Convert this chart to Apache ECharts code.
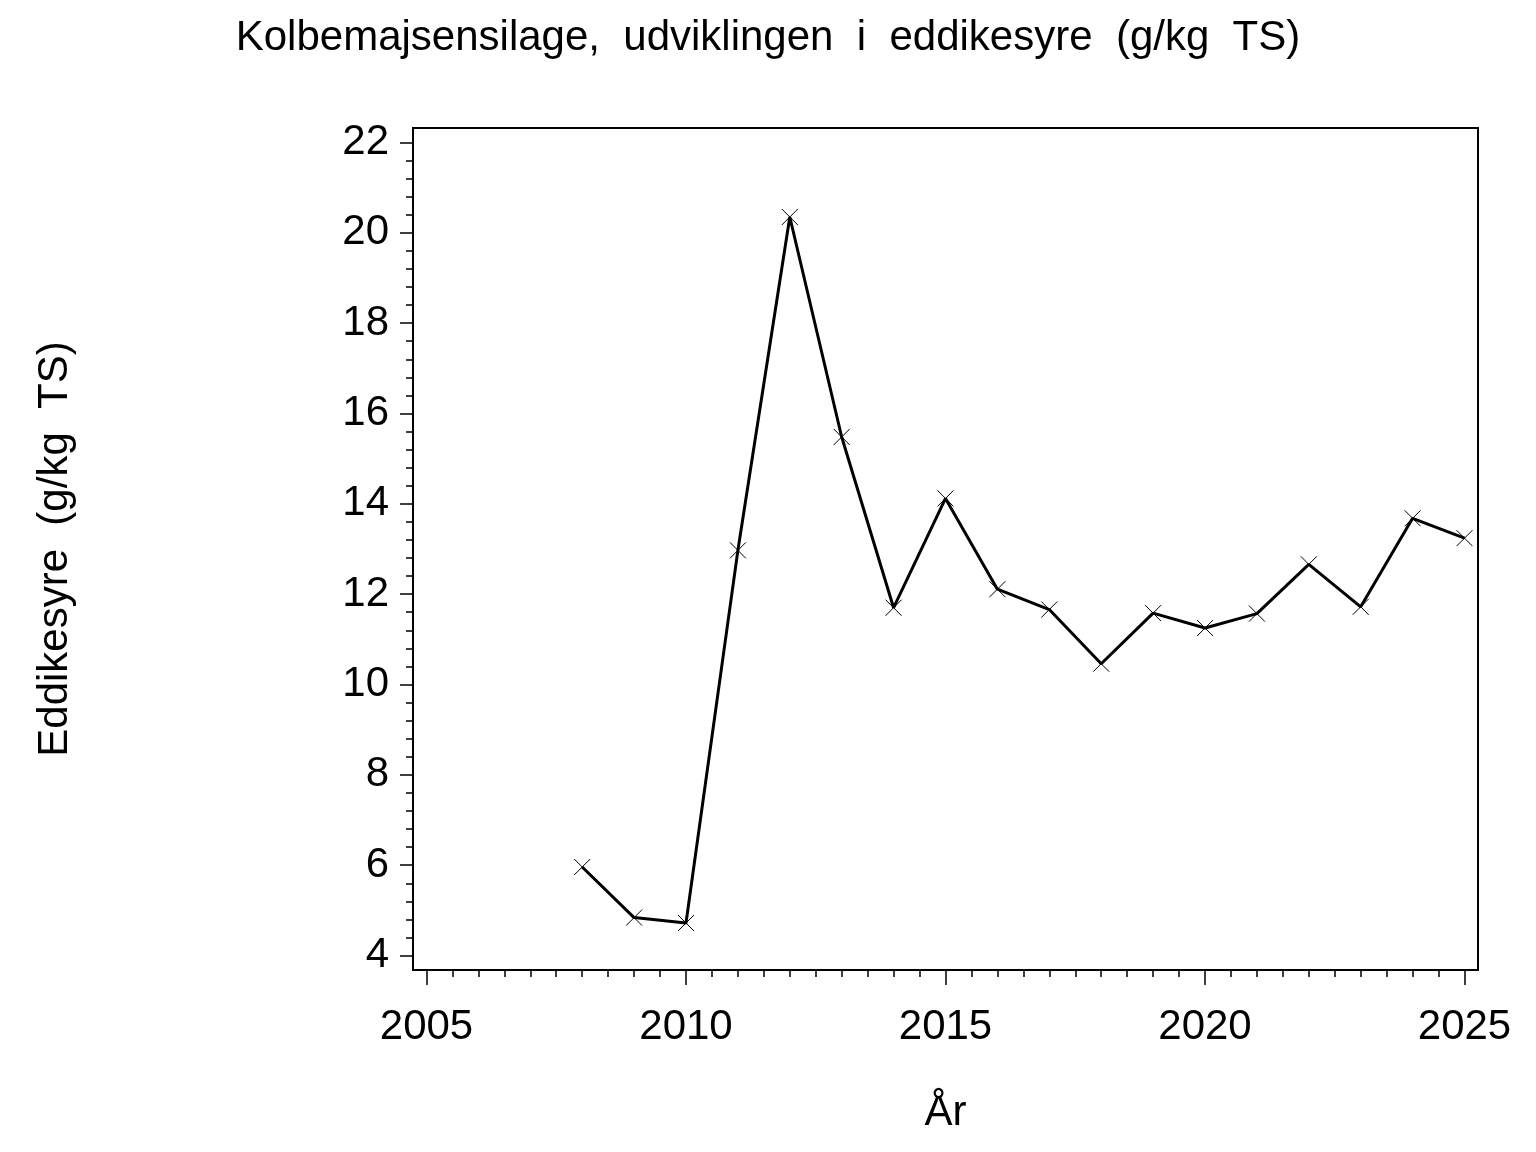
<!DOCTYPE html>
<html>
<head>
<meta charset="utf-8">
<script src="https://cdn.jsdelivr.net/npm/echarts@6/dist/echarts.min.js"></script>
<style>
html,body{margin:0;padding:0;background:#fff;}
#chart{width:1536px;height:1152px;}
</style>
</head>
<body>
<div id="chart"></div>
<script>
var years = [2008, 2009, 2010, 2011, 2012, 2013, 2014, 2015, 2016, 2017, 2018, 2019, 2020, 2021, 2022, 2023, 2024, 2025];
var eddikesyre = [5.96, 4.84, 4.72, 12.97, 20.35, 15.48, 11.70, 14.12, 12.11, 11.66, 10.46, 11.58, 11.25, 11.57, 12.66, 11.72, 13.68, 13.24];
var xTicks = [2005, 2010, 2015, 2020, 2025];
var yTicks = [4, 6, 8, 10, 12, 14, 16, 18, 20, 22];
var xMinorPerMajor = 10;
var yMinorPerMajor = 5;

function minorValues(ticks, n) {
  var out = [];
  for (var i = 0; i < ticks.length - 1; i++) {
    var step = (ticks[i + 1] - ticks[i]) / n;
    for (var k = 1; k < n; k++) out.push(+(ticks[i] + k * step).toFixed(4));
  }
  return out;
}

var FONT = '"Liberation Sans", Arial, sans-serif';
var chart = echarts.init(document.getElementById('chart'), null, {renderer: 'canvas'});
var data = years.map(function (y, i) { return [y, eddikesyre[i]]; });

var xRange = {min: 2004.74, max: 2025.26};
var yRange = {min: 3.68, max: 22.32};

chart.setOption({
  animation: false,
  backgroundColor: '#fff',
  title: {
    text: 'Kolbemajsensilage,  udviklingen  i  eddikesyre  (g/kg  TS)',
    left: 'center',
    top: 12,
    textStyle: {fontFamily: FONT, fontSize: 42, fontWeight: 'normal', color: '#000'}
  },
  grid: {
    left: 413, right: 58, top: 128, bottom: 182,
    show: true, borderColor: '#000', borderWidth: 2, backgroundColor: 'transparent'
  },
  xAxis: [{
    type: 'value', min: xRange.min, max: xRange.max,
    position: 'bottom',
    name: 'År', nameLocation: 'middle', nameGap: 122,
    nameTextStyle: {fontFamily: FONT, fontSize: 42, color: '#000'},
    axisLine: {show: true, onZero: false, lineStyle: {color: '#000', width: 2}},
    axisTick: {show: true, customValues: xTicks, length: 15, lineStyle: {color: '#000', width: 1.5}},
    axisLabel: {customValues: xTicks, margin: 36, fontFamily: FONT, fontSize: 42, color: '#000',
      formatter: function (v) { return String(Math.round(v)); }},
    splitLine: {show: false}
  }, {
    type: 'value', min: xRange.min, max: xRange.max,
    position: 'bottom', offset: 0,
    axisLine: {show: false, onZero: false},
    axisTick: {show: true, customValues: minorValues(xTicks, xMinorPerMajor), length: 7, lineStyle: {color: '#000', width: 1.5}},
    axisLabel: {show: false},
    splitLine: {show: false}
  }],
  yAxis: [{
    type: 'value', min: yRange.min, max: yRange.max,
    position: 'left',
    name: 'Eddikesyre  (g/kg  TS)', nameLocation: 'middle', nameGap: 337, nameRotate: 90,
    nameTextStyle: {fontFamily: FONT, fontSize: 42, color: '#000'},
    axisLine: {show: true, onZero: false, lineStyle: {color: '#000', width: 2}},
    axisTick: {show: true, customValues: yTicks, length: 13, lineStyle: {color: '#000', width: 1.5}},
    axisLabel: {customValues: yTicks, margin: 24, fontFamily: FONT, fontSize: 42, color: '#000'},
    splitLine: {show: false}
  }, {
    type: 'value', min: yRange.min, max: yRange.max,
    position: 'left', offset: 0,
    axisLine: {show: false, onZero: false},
    axisTick: {show: true, customValues: minorValues(yTicks, yMinorPerMajor), length: 7, lineStyle: {color: '#000', width: 1.5}},
    axisLabel: {show: false},
    splitLine: {show: false}
  }],
  series: [{
    type: 'line',
    xAxisIndex: 0, yAxisIndex: 0,
    data: data,
    symbol: 'path://M0,0L10,10M10,0L0,10',
    symbolSize: 16,
    showAllSymbol: true,
    lineStyle: {color: '#000', width: 3},
    itemStyle: {color: 'rgba(0,0,0,0)', borderColor: '#000', borderWidth: 1},
    emphasis: {disabled: true}
  }]
});
</script>
</body>
</html>
